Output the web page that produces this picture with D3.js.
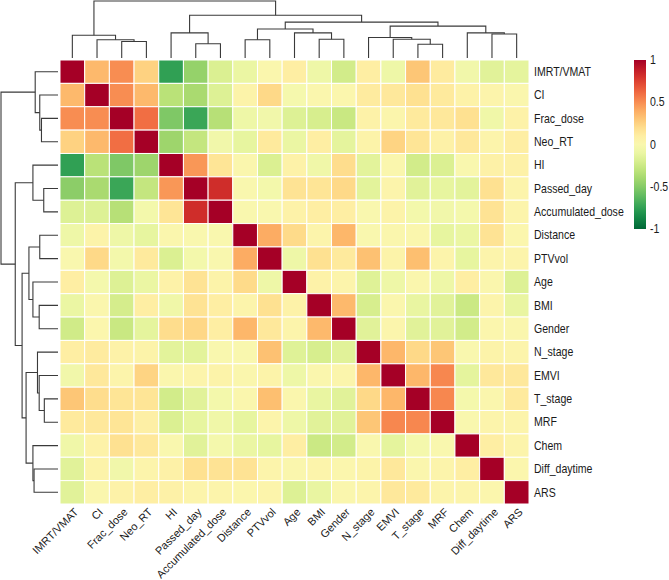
<!DOCTYPE html>
<html><head><meta charset="utf-8">
<script src="https://cdn.jsdelivr.net/npm/d3@7"></script>
<style>body{margin:0;background:#fff;} text{font-family:"Liberation Sans",Arial,sans-serif;}</style>
</head><body><svg id="chart" width="669" height="580"></svg>
<script>
const variables = ["IMRT/VMAT","CI","Frac_dose","Neo_RT","HI","Passed_day","Accumulated_dose","Distance","PTVvol","Age","BMI","Gender","N_stage","EMVI","T_stage","MRF","Chem","Diff_daytime","ARS"];

const values = [
 [1, 0.35, 0.5, 0.25, -0.75, -0.45, -0.18, -0.1, 0.02, 0.1, -0.08, -0.22, 0.1, -0.08, 0.3, 0.12, -0.06, -0.15, -0.13],
 [0.35, 1, 0.5, 0.35, -0.32, -0.38, -0.17, 0.06, 0.22, -0.03, 0.02, 0.03, 0.12, 0.14, 0.18, 0.13, 0.07, 0.05, 0.02],
 [0.5, 0.5, 1, 0.6, -0.52, -0.72, -0.33, -0.08, -0.06, -0.17, -0.2, -0.26, 0.07, 0.04, 0.13, 0.14, 0.18, -0.07, 0.07],
 [0.25, 0.35, 0.6, 1, -0.42, -0.28, -0.06, -0.12, 0.13, -0.1, 0.1, -0.13, 0.06, 0.24, 0.16, 0.08, 0.14, 0.05, 0.1],
 [-0.75, -0.32, -0.52, -0.42, 1, 0.47, 0.16, 0.02, -0.18, 0.07, -0.07, 0.2, -0.14, 0.02, -0.22, -0.18, 0.01, 0.08, 0.08],
 [-0.48, -0.38, -0.72, -0.28, 0.47, 1, 0.82, 0.01, -0.05, 0.17, 0.16, 0.22, -0.14, 0.05, -0.15, -0.12, -0.14, 0.18, 0.05],
 [-0.17, -0.17, -0.33, -0.05, 0.16, 0.82, 1, 0.01, 0.01, 0.07, 0.1, 0.1, 0.01, 0.06, -0.05, -0.06, -0.04, 0.17, 0.05],
 [-0.08, 0.06, -0.08, -0.12, 0.02, 0.01, 0.01, 1, 0.4, 0.21, 0.05, 0.36, 0.01, 0.02, 0.02, -0.12, -0.1, 0.17, 0.03],
 [0.01, 0.22, -0.05, 0.13, -0.18, -0.05, 0.01, 0.4, 1, -0.08, 0.18, 0.13, 0.32, 0.06, 0.33, 0.05, -0.12, 0.05, 0.05],
 [0.1, -0.04, -0.17, -0.1, 0.07, 0.17, 0.06, 0.21, -0.08, 1, 0.07, 0.05, -0.16, -0.08, 0.02, -0.08, 0.1, 0.02, -0.17],
 [-0.1, 0.02, -0.21, 0.1, -0.07, 0.17, 0.1, 0.05, 0.18, 0.07, 1, 0.35, -0.2, 0.02, -0.11, -0.15, -0.25, 0.05, -0.11],
 [-0.23, 0.03, -0.26, -0.13, 0.2, 0.23, 0.1, 0.36, 0.14, 0.05, 0.35, 1, -0.15, 0.04, -0.15, -0.15, -0.22, 0.03, 0.02],
 [0.1, 0.12, 0.07, 0.06, -0.14, -0.14, 0.01, 0.01, 0.32, -0.16, -0.2, -0.15, 1, 0.36, 0.22, 0.3, 0.01, 0.06, 0.05],
 [-0.06, 0.14, 0.05, 0.24, 0.02, 0.05, 0.06, 0.02, 0.06, -0.08, 0.02, 0.04, 0.36, 1, 0.36, 0.52, -0.13, 0.14, 0.14],
 [0.3, 0.2, 0.16, 0.16, -0.22, -0.15, -0.05, 0.02, 0.33, 0.02, -0.11, -0.15, 0.22, 0.36, 1, 0.52, -0.04, 0.02, 0.13],
 [0.13, 0.14, 0.16, 0.09, -0.18, -0.12, -0.07, -0.12, 0.05, -0.08, -0.15, -0.15, 0.3, 0.52, 0.52, 1, 0.01, 0.05, 0.05],
 [-0.07, 0.07, 0.18, 0.14, 0.01, -0.15, -0.04, -0.1, -0.12, 0.1, -0.25, -0.22, 0.01, -0.13, -0.04, 0.01, 1, 0.1, 0.05],
 [-0.15, 0.06, -0.06, 0.05, 0.08, 0.18, 0.17, 0.17, 0.05, 0.02, 0.05, 0.03, 0.06, 0.14, 0.02, 0.05, 0.1, 1, 0.03],
 [-0.15, 0.02, 0.07, 0.1, 0.08, 0.05, 0.05, 0.03, 0.05, -0.17, -0.11, 0.02, 0.05, 0.14, 0.13, 0.05, 0.05, 0.03, 1]
];

// hierarchical clustering merges: [childA, childB, height]; strings = leaves, numbers = earlier merge index
const merges = [
 ["Frac_dose","Neo_RT",0.29],
 ["CI",0,0.32],
 ["IMRT/VMAT",1,0.40],
 ["Passed_day","Accumulated_dose",0.25],
 ["HI",3,0.44],
 ["Distance","PTVvol",0.32],
 ["BMI","Gender",0.33],
 ["Age",6,0.44],
 [5,7,0.51],
 ["T_stage","MRF",0.24],
 ["EMVI",9,0.33],
 ["N_stage",10,0.36],
 ["Diff_daytime","ARS",0.42],
 ["Chem",12,0.44],
 [11,13,0.56],
 [8,14,0.63],
 [4,15,0.75],
 [2,16,1.0]
];

const legendTicks = [1, 0.5, 0, -0.5, -1];

const svg = d3.select("#chart");
const gx0 = 60, gx1 = 529, gy0 = 60, gy1 = 504;
const x = d3.scaleBand().domain(variables).range([gx0, gx1]).padding(0);
const y = d3.scaleBand().domain(variables).range([gy0, gy1]).padding(0);
const color = v => d3.interpolateRdYlGn((1 - v) / 2);

// cells
const cells = [];
values.forEach((row, i) => row.forEach((v, j) => cells.push({r: variables[i], c: variables[j], v})));
svg.append("g").selectAll("rect").data(cells).join("rect")
  .attr("x", d => x(d.c)).attr("y", d => y(d.r))
  .attr("width", x.bandwidth()).attr("height", y.bandwidth())
  .attr("fill", d => color(d.v))
  .attr("stroke", "#fff").attr("stroke-width", 1);

// dendrograms
function buildNodes(posScale) {
  const nodes = [];
  const get = k => typeof k === "string" ? {pos: posScale(k) + posScale.bandwidth() / 2, h: 0} : nodes[k];
  merges.forEach(([a, b, h]) => {
    const na = get(a), nb = get(b);
    nodes.push({pos: (na.pos + nb.pos) / 2, h, a: na, b: nb});
  });
  return nodes;
}
const hTop = d3.scaleLinear().domain([0, 1]).range([58, 1]);
const hLeft = d3.scaleLinear().domain([0, 1]).range([58, 1]);

const topNodes = buildNodes(x);
const gTop = svg.append("g").attr("stroke", "#3a3a3a").attr("stroke-width", 1.1).attr("fill", "none");
topNodes.forEach(n => {
  gTop.append("path").attr("d",
    `M${n.a.pos},${hTop(n.a.h)}V${hTop(n.h)}H${n.b.pos}V${hTop(n.b.h)}`);
});
const leftNodes = buildNodes(y);
const gLeft = svg.append("g").attr("stroke", "#3a3a3a").attr("stroke-width", 1.1).attr("fill", "none");
leftNodes.forEach(n => {
  gLeft.append("path").attr("d",
    `M${hLeft(n.a.h)},${n.a.pos}H${hLeft(n.h)}V${n.b.pos}H${hLeft(n.b.h)}`);
});

// row labels
svg.append("g").selectAll("text").data(variables).join("text")
  .attr("transform", d => `translate(${gx1 + 5},${y(d) + y.bandwidth() / 2}) scale(0.88,1)`)
  .attr("dy", "0.35em").attr("font-size", 12).attr("fill", "#1a1a1a")
  .text(d => d);

// column labels
svg.append("g").selectAll("text").data(variables).join("text")
  .attr("transform", d => `translate(${x(d) + x.bandwidth() / 2 + 4},${gy1 + 6}) rotate(-45)`)
  .attr("text-anchor", "end").attr("dy", "0.35em").attr("font-size", 11).attr("fill", "#1a1a1a")
  .text(d => d);

// legend
const lx = 634, lw = 12, ly0 = 60, ly1 = 229;
const ls = d3.scaleLinear().domain([1, -1]).range([ly0, ly1]);
const defs = svg.append("defs");
const grad = defs.append("linearGradient").attr("id", "lg").attr("x1", 0).attr("y1", 0).attr("x2", 0).attr("y2", 1);
d3.range(0, 1.0001, 0.05).forEach(t => {
  grad.append("stop").attr("offset", t).attr("stop-color", color(1 - 2 * t));
});
svg.append("rect").attr("x", lx).attr("y", ly0).attr("width", lw).attr("height", ly1 - ly0).attr("fill", "url(#lg)");
svg.append("g").selectAll("text").data(legendTicks).join("text")
  .attr("transform", d => `translate(${lx + lw + 4},${ls(d)}) scale(0.88,1)`)
  .attr("dy", "0.35em")
  .attr("font-size", 12).attr("fill", "#1a1a1a").text(d => d);
</script></body></html>
